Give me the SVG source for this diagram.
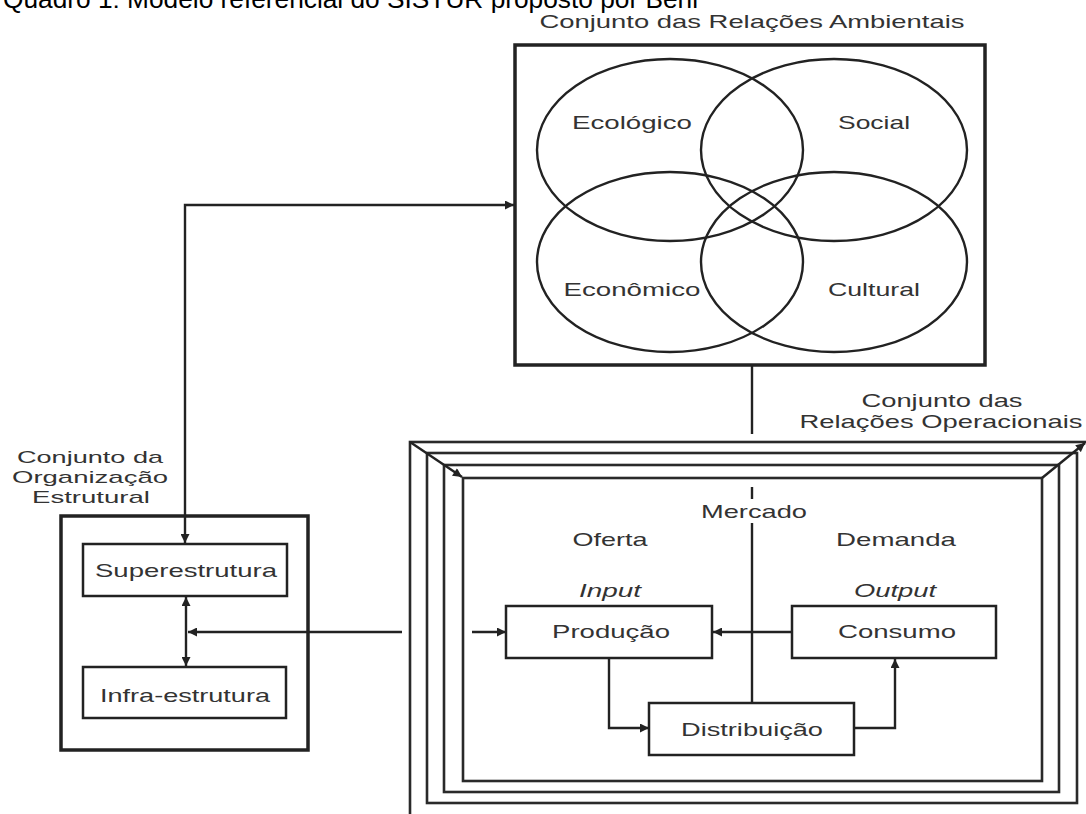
<svg xmlns="http://www.w3.org/2000/svg" width="1086" height="814" viewBox="0 0 1086 814">
<style>
.bg{fill:#ffffff;}
.box{fill:#ffffff;stroke:#222;stroke-width:2.5;}
.thick{fill:none;stroke:#222;stroke-width:3.5;}
.fr{fill:none;stroke:#2a2a2a;stroke-width:2.6;}
.ell{fill:none;stroke:#222;stroke-width:2.4;}
.ln{fill:none;stroke:#222;stroke-width:2.4;}
.lbl{font-family:"Liberation Sans",Arial,sans-serif;font-size:19px;fill:#333;text-anchor:middle;}
.sm{font-size:17px;}
.it{font-style:italic;}
.title{font-family:"Liberation Sans",Arial,sans-serif;font-size:26px;fill:#000;}
</style>
<defs>
<marker id="ah" viewBox="0 0 10 10" refX="10" refY="5" markerWidth="11" markerHeight="9" markerUnits="userSpaceOnUse" orient="auto-start-reverse">
<path d="M0,0 L10,5 L0,10 z" fill="#222"/>
</marker>
</defs>
<rect class="bg" x="0" y="0" width="1086" height="814"/>
<text class="title" x="3" y="8" textLength="695" lengthAdjust="spacingAndGlyphs">Quadro 1: Modelo referencial do SISTUR proposto por Beni</text>

<g id="ambientais">
<rect class="thick" x="515" y="45" width="470" height="320" fill="#fff"/>
<text class="lbl" x="752" y="28" textLength="425" lengthAdjust="spacingAndGlyphs">Conjunto das Relações Ambientais</text>
<g id="ecologico"><ellipse class="ell" cx="670" cy="150" rx="133" ry="91"/><text class="lbl" x="632" y="129" textLength="120" lengthAdjust="spacingAndGlyphs">Ecológico</text></g>
<g id="social"><ellipse class="ell" cx="834" cy="150" rx="133" ry="91"/><text class="lbl" x="874" y="129" textLength="72" lengthAdjust="spacingAndGlyphs">Social</text></g>
<g id="economico"><ellipse class="ell" cx="670" cy="262" rx="133" ry="90"/><text class="lbl" x="632" y="296" textLength="137" lengthAdjust="spacingAndGlyphs">Econômico</text></g>
<g id="cultural"><ellipse class="ell" cx="834" cy="262" rx="133" ry="90"/><text class="lbl" x="874" y="296" textLength="92" lengthAdjust="spacingAndGlyphs">Cultural</text></g>
</g>

<g id="operacionais">
<text class="lbl" x="942" y="407" textLength="161" lengthAdjust="spacingAndGlyphs">Conjunto das</text>
<text class="lbl" x="941" y="428" textLength="283" lengthAdjust="spacingAndGlyphs">Relações Operacionais</text>
<rect class="fr" x="410" y="442" width="690" height="390" stroke-width="3"/>
<rect class="fr" x="427" y="453" width="650" height="350"/>
<rect class="fr" x="444" y="465" width="615" height="327"/>
<rect class="fr" x="463" y="478" width="579" height="303"/>
<path class="ln" d="M410,442 L462,477" marker-end="url(#ah)"/>
<path class="ln" d="M1042,478 L1085,443" marker-end="url(#ah)"/>
</g>

<g id="organizacao">
<text class="lbl sm" x="90" y="463" textLength="146" lengthAdjust="spacingAndGlyphs">Conjunto da</text>
<text class="lbl sm" x="90" y="483" textLength="156" lengthAdjust="spacingAndGlyphs">Organização</text>
<text class="lbl sm" x="91" y="503" textLength="118" lengthAdjust="spacingAndGlyphs">Estrutural</text>
<rect class="thick" x="61" y="516" width="247" height="234" stroke-width="4"/>
</g>

<g id="superestrutura">
<rect class="box" x="83" y="544" width="204" height="52"/>
<text class="lbl" x="186" y="577" textLength="182" lengthAdjust="spacingAndGlyphs">Superestrutura</text>
</g>
<g id="infraestrutura">
<rect class="box" x="83" y="667" width="203" height="51"/>
<text class="lbl" x="185" y="702" textLength="170" lengthAdjust="spacingAndGlyphs">Infra-estrutura</text>
</g>

<g id="mercado-labels">
<text class="lbl" x="754" y="518" textLength="106" lengthAdjust="spacingAndGlyphs">Mercado</text>
<text class="lbl" x="610" y="546" textLength="75" lengthAdjust="spacingAndGlyphs">Oferta</text>
<text class="lbl" x="896" y="546" textLength="120" lengthAdjust="spacingAndGlyphs">Demanda</text>
<text class="lbl it" x="610" y="597" textLength="62" lengthAdjust="spacingAndGlyphs">Input</text>
<text class="lbl it" x="895" y="597" textLength="82" lengthAdjust="spacingAndGlyphs">Output</text>
</g>

<g id="connectors">
<path class="ln" d="M185,543 V205 H514" marker-start="url(#ah)" marker-end="url(#ah)"/>
<path class="ln" d="M752,365 V434"/>
<path class="ln" d="M402,632 H188" marker-end="url(#ah)"/>
<path class="ln" d="M186,597 V666" marker-start="url(#ah)" marker-end="url(#ah)"/>
<path class="ln" d="M472,632 H506" marker-end="url(#ah)"/>
<path class="ln" d="M792,632 H713" marker-end="url(#ah)"/>
<path class="ln" d="M752,487 V499"/>
<path class="ln" d="M752,523 V703"/>
<path class="ln" d="M609,658 V728 H649" marker-end="url(#ah)"/>
<path class="ln" d="M854,728 H895 V659" marker-end="url(#ah)"/>
</g>

<g id="producao">
<rect class="box" x="506" y="606" width="206" height="52"/>
<text class="lbl" x="611" y="638" textLength="118" lengthAdjust="spacingAndGlyphs">Produção</text>
</g>
<g id="consumo">
<rect class="box" x="792" y="606" width="204" height="52"/>
<text class="lbl" x="897" y="638" textLength="118" lengthAdjust="spacingAndGlyphs">Consumo</text>
</g>
<g id="distribuicao">
<rect class="box" x="649" y="703" width="205" height="52"/>
<text class="lbl" x="752" y="736" textLength="142" lengthAdjust="spacingAndGlyphs">Distribuição</text>
</g>
</svg>
